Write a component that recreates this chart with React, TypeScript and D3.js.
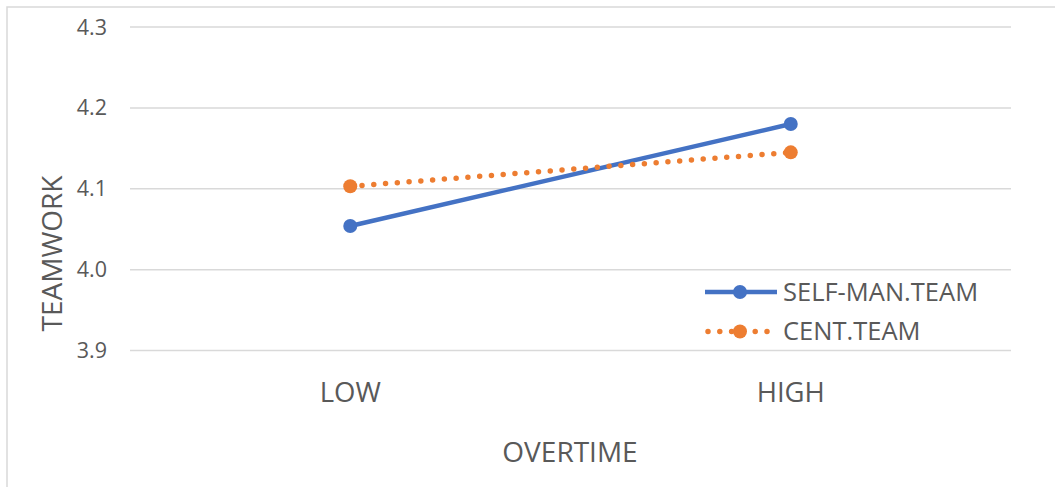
import React from "react";
import * as d3 from "d3";

const categories = ["LOW", "HIGH"];
const selfManTeam = [4.054, 4.18];
const centTeam = [4.103, 4.145];
const yTicks = [3.9, 4.0, 4.1, 4.2, 4.3];
const seriesNames = ["SELF-MAN.TEAM", "CENT.TEAM"];

const W = 1055;
const H = 487;
const FONT = "'Open Sans', 'Noto Sans', sans-serif";
const TEXT = "#595959";
const GRID = "#D9D9D9";
const BLUE = "#4472C4";
const ORANGE = "#ED7D31";

export default function App() {
  const x = d3.scalePoint<string>().domain(categories).range([130, 1011]).padding(0.5);
  const y = d3.scaleLinear().domain([3.9, 4.3]).range([350.5, 27]);

  const line = d3
    .line<number>()
    .x((_, i) => x(categories[i]) as number)
    .y((d) => y(d));

  const series = [
    { name: seriesNames[0], values: selfManTeam, color: BLUE, dash: undefined as string | undefined },
    { name: seriesNames[1], values: centTeam, color: ORANGE, dash: "0 11.8" },
  ];

  return (
    <div style={{ position: "absolute", left: 0, top: 0 }}>
      <svg width={W} height={H} style={{ display: "block", background: "#fff" }}>
        <rect x={7} y={7} width={W + 20} height={H + 20} fill="#fff" stroke={GRID} strokeWidth={1.5} />

        {yTicks.map((t) => (
          <g key={t}>
            <line x1={130} x2={1011} y1={y(t)} y2={y(t)} stroke={GRID} strokeWidth={1.5} />
            <text
              x={107}
              y={y(t)}
              dy="0.35em"
              textAnchor="end"
              fontFamily={FONT}
              fontSize={21.5}
              fill={TEXT}
            >
              {t.toFixed(1)}
            </text>
          </g>
        ))}

        {categories.map((c) => (
          <text
            key={c}
            x={x(c) as number}
            y={392}
            dy="0.35em"
            textAnchor="middle"
            fontFamily={FONT}
            fontSize={27.5}
            fill={TEXT}
          >
            {c}
          </text>
        ))}

        <text x={570} y={452} dy="0.35em" textAnchor="middle" fontFamily={FONT} fontSize={28} fill={TEXT}>
          OVERTIME
        </text>
        <text
          transform="translate(52,253.5) rotate(-90)"
          dy="0.35em"
          textAnchor="middle"
          fontFamily={FONT}
          fontSize={28}
          fill={TEXT}
        >
          TEAMWORK
        </text>

        {series.map((s) => (
          <g key={s.name}>
            <path
              d={line(s.values) || ""}
              fill="none"
              stroke={s.color}
              strokeWidth={s.dash ? 5.5 : 4.5}
              strokeDasharray={s.dash}
              strokeLinecap={s.dash ? "round" : "butt"}
            />
            {s.values.map((v, i) => (
              <circle key={i} cx={x(categories[i]) as number} cy={y(v)} r={7} fill={s.color} />
            ))}
          </g>
        ))}

        {series.map((s, i) => {
          const ly = 292 + i * 39.5;
          return (
            <g key={s.name}>
              <line
                x1={s.dash ? 708 : 705}
                x2={777}
                y1={ly}
                y2={ly}
                stroke={s.color}
                strokeWidth={s.dash ? 5.5 : 4.5}
                strokeDasharray={s.dash}
                strokeLinecap={s.dash ? "round" : "butt"}
              />
              <circle cx={740} cy={ly} r={7} fill={s.color} />
              <text x={783} y={ly} dy="0.35em" fontFamily={FONT} fontSize={25.5} fill={TEXT}>
                {s.name}
              </text>
            </g>
          );
        })}
      </svg>
    </div>
  );
}
